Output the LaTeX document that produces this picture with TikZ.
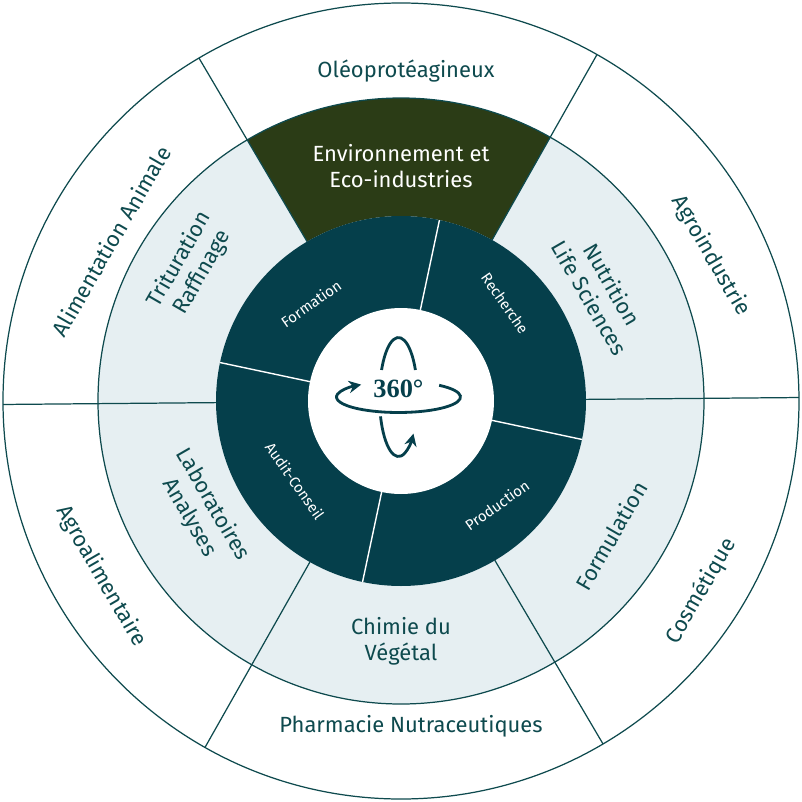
\documentclass[tikz,border=0pt]{standalone}
\usepackage{fontspec}
\setmainfont{Fira Sans}
\newfontfamily\degfont{Liberation Serif}
\usepackage{tikz}
\usetikzlibrary{arrows.meta,positioning}
\definecolor{teal}{HTML}{053F4B}
\definecolor{olive}{HTML}{2B3C16}
\definecolor{pale}{HTML}{E6EFF2}
\definecolor{rim}{HTML}{0E4A4E}
\tikzset{
  outlbl/.style={text=rim,font=\fontsize{12.5}{14}\selectfont,align=center},
  midlbl/.style={text=rim,font=\fontsize{12.5}{15}\selectfont,align=center},
  innlbl/.style={text=white,font=\fontsize{8.5}{10}\selectfont},
}
\begin{document}
\begin{tikzpicture}
    \useasboundingbox (-8.02,-8.02) rectangle (8.02,8.02);
    % outer ring
    \draw[rim,fill=white,line width=0.7pt] (0,0) circle (7.96);
    % middle ring
    \foreach \a/\col in {0.5/pale,60.5/olive,120.5/pale,180.5/pale,240.5/pale,300.5/pale}{
        \fill[\col] (\a:3.7) -- (\a:6.06) arc (\a:\a+60:6.06) -- (\a+60:3.7) arc (\a+60:\a:3.7) -- cycle;
    }
    \draw[rim,line width=0.7pt] (0,0) circle (6.06);
    \foreach \a in {0.5,60.5,120.5,180.5,240.5,300.5}{
        \draw[rim,line width=0.7pt] (\a:3.7) -- (\a:7.96);
    }
    % inner ring
    \fill[teal] (0,0) circle (3.7);
    \foreach \a in {78,168,258,348}{
        \draw[white,line width=0.8pt] (\a:1.86) -- (\a:3.7);
    }
    \fill[white] (0,0) circle (1.86);
    % center icon
    \begin{scope}[teal,line width=1.6pt,shift={(-0.05,0.08)}]
        \draw (27:0.38 and 1.19) arc (27:153:0.38 and 1.19);
        \draw[-{Stealth[length=7pt,width=7pt]}] (199:0.38 and 1.19) arc (199:322:0.38 and 1.19);
        \draw[-{Stealth[length=7pt,width=7pt]}] (49:1.24 and 0.31) arc (49:-233:1.24 and 0.31);
        \node[text=teal,font=\degfont\bfseries\fontsize{15}{15}\selectfont] (deg) at (0,0.16) {360°};
    \end{scope}
    % inner labels
    \node[innlbl,rotate=35] (form) at (-1.8,1.95) {Formation};
    \node[innlbl,rotate=-55] (rech) at (2.08,1.95) {Recherche};
    \node[innlbl,rotate=35] (prod) at (1.92,-2.08) {Production};
    \node[innlbl,rotate=-55] (audit) at (-2.12,-1.6) {Audit-Conseil};
    % middle labels
    \node[midlbl,text=white] (env) at (0,4.7) {Environnement et\\Eco-industries};
    \node[midlbl,rotate=60] (trit) at (-4.2,2.7) {Trituration\\Raffinage};
    \node[midlbl,rotate=-60] (nutr) at (4.0,2.2) {Nutrition\\Life Sciences};
    \node[midlbl,rotate=60] (formu) at (4.2,-2.7) {Formulation};
    \node[midlbl] (chim) at (0,-4.8) {Chimie du\\Végétal};
    \node[midlbl,rotate=-60] (labo) at (-4.0,-2.2) {Laboratoires\\Analyses};
    % outer labels
    \node[outlbl] (oleo) at (0.1,6.6) {Oléoprotéagineux};
    \node[outlbl,rotate=-60] (agroi) at (6.2,2.9) {Agroindustrie};
    \node[outlbl,rotate=60] (cosm) at (6.0,-3.8) {Cosmétique};
    \node[outlbl] (pharm) at (0.2,-6.5) {Pharmacie Nutraceutiques};
    \node[outlbl,rotate=-60] (agroa) at (-6.0,-3.5) {Agroalimentaire};
    \node[outlbl,rotate=60] (alim) at (-5.8,3.2) {Alimentation Animale};
\end{tikzpicture}
\end{document}
